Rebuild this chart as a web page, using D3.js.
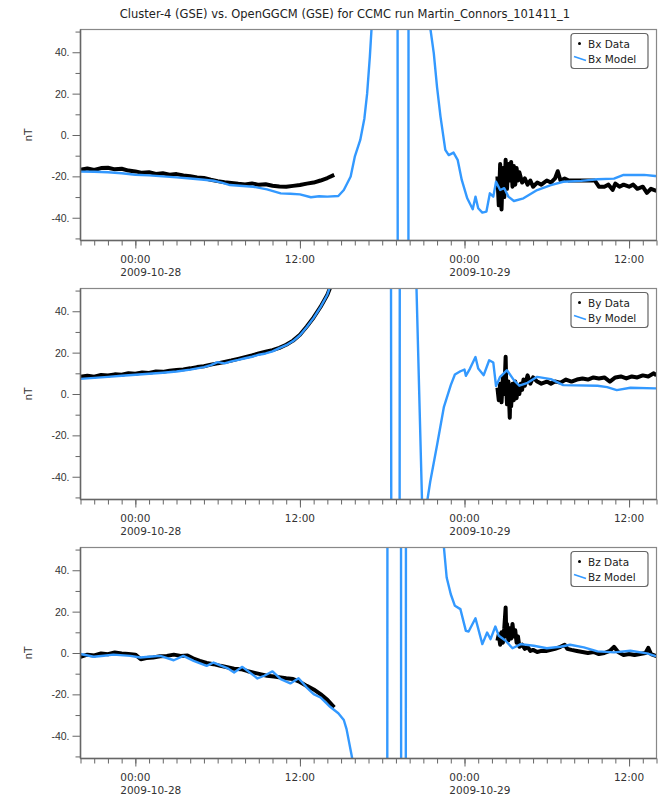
<!DOCTYPE html>
<html>
<head>
<meta charset="utf-8">
<script src="https://cdn.jsdelivr.net/npm/d3@7"></script>
<style>
  body { margin: 0; background: #fff; }
  svg { display: block; font-family: "DejaVu Sans", Verdana, sans-serif; }
  .axis path, .axis line { stroke: #666; }
  .axis text { fill: #333; font-size: 10.5px; }
</style>
</head>
<body>
<div id="chart"></div>
<script>
// times are hours from 2009-10-28 00:00 UT
var title = "Cluster-4 (GSE) vs. OpenGGCM (GSE) for CCMC run Martin_Connors_101411_1";
var components = ["Bx", "By", "Bz"];
var yTicks = [-40, -20, 0, 20, 40];
var yMinor = [-50, -30, -10, 10, 30, 50];
var xLabelHours = [0, 12, 24, 36];

var bxData1 = [[-4,-16.8],[-3.5,-16.2],[-3,-16.9],[-2.5,-16.0],[-2,-15.8],[-1.5,-16.6],[-1,-16.3],[-0.5,-17.2],[0,-17.6],[0.5,-18.3],[1,-18.0],[1.5,-18.8],[2,-18.5],[2.5,-19.2],[3,-18.9],[3.5,-19.6],[4,-19.9],[4.5,-20.5],[5,-20.8],[5.5,-21.6],[6,-22.3],[6.5,-22.8],[7,-23.2],[7.5,-23.6],[8,-23.9],[8.5,-23.4],[9,-24.1],[9.5,-23.8],[10,-24.5],[10.5,-24.9],[11,-25.0],[11.5,-24.6],[12,-24.2],[12.5,-23.5],[13,-23.0],[13.5,-22.0],[14,-20.8],[14.5,-19.3]];
var bxData2 = [[26.4,-20],[26.5,-34],[26.6,-14],[26.7,-36],[26.8,-16],[26.9,-30],[27.0,-12],[27.1,-26],[27.2,-14],[27.3,-22],[27.4,-13],[27.5,-25],[27.6,-15],[27.7,-24],[27.8,-16],[27.9,-22],[28.0,-18],[28.2,-23],[28.4,-21],[28.6,-24],[28.8,-22],[29.0,-25],[29.3,-23],[29.6,-24],[30.0,-22],[30.3,-23],[30.6,-21],[30.8,-17.5],[31.0,-22],[31.3,-21],[31.6,-22],[32.0,-22],[32.5,-22],[33.0,-22],[33.5,-22],[33.8,-25],[34.2,-25],[34.5,-24],[34.8,-26.5],[35.0,-23.5],[35.3,-25],[35.6,-24],[36.0,-25],[36.3,-24],[36.6,-26],[37.0,-25],[37.3,-28],[37.6,-26],[38.0,-27]];
var bxModel = [[-4,-17.7],[-3,-17.8],[-2,-18.0],[-1,-18.5],[0,-19.2],[1,-19.5],[2,-20.0],[3,-20.5],[4,-21.0],[5,-21.6],[5.7,-22.1],[6.3,-23.0],[6.9,-24.2],[7.6,-24.5],[8.6,-25.0],[9.6,-26.3],[10.6,-28.2],[11.3,-28.4],[12.0,-28.7],[12.8,-30.1],[13.4,-29.6],[14.0,-29.8],[14.8,-29.5],[15.2,-26.6],[15.7,-20.1],[16.0,-10.5],[16.4,-2.4],[16.7,8],[16.9,20],[17.1,38],[17.3,60],[17.6,120],[19.1,300],[19.15,-300],[19.9,-300],[19.93,300],[21.3,100],[21.52,51],[21.76,39.6],[22.0,23],[22.25,8.9],[22.6,-7.2],[22.85,-9.7],[23.2,-8.5],[23.5,-12],[23.8,-21.7],[24.2,-30.6],[24.6,-35.9],[24.8,-29.8],[25.0,-35.4],[25.3,-37.5],[25.6,-37],[25.85,-28.2],[26.1,-29.8],[26.3,-22.6],[26.6,-26.6],[26.9,-25.7],[27.2,-29.8],[27.6,-31.9],[28.3,-30.6],[29.3,-26.6],[30.3,-24.2],[31.2,-22.6],[32.5,-22.2],[33.7,-21.4],[34.9,-21.1],[35.6,-19.3],[37.1,-19.3],[37.9,-19.8],[38,-19.9]];

var byData1 = [[-4,8.3],[-3.5,8.8],[-3,8.4],[-2.5,9.2],[-2,8.9],[-1.5,9.5],[-1,9.3],[-0.5,10.0],[0,9.8],[0.5,10.4],[1,10.2],[1.5,10.9],[2,10.7],[2.5,11.3],[3,11.6],[3.5,11.9],[4,12.4],[4.5,13.0],[5,13.4],[5.5,14.2],[6,14.8],[6.5,15.5],[7,16.2],[7.5,17.0],[8,17.8],[8.5,18.6],[9,19.6],[9.5,20.4],[10,21.2],[10.5,22.3],[11,23.8],[11.5,25.8],[12,28.6],[12.5,32.6],[13,37.0],[13.5,42.1],[14,48],[14.3,53]];
var byData2 = [[26.4,3],[26.5,-3],[26.6,5],[26.7,-4],[26.8,8],[26.9,0],[27.0,18],[27.05,2],[27.1,-5],[27.2,6],[27.3,-11.5],[27.35,2],[27.4,-6],[27.5,5],[27.6,-3],[27.7,6],[27.8,-2],[27.9,4],[28.0,0],[28.1,5],[28.2,2],[28.3,7],[28.4,4],[28.6,9],[28.8,5],[29.0,8],[29.3,6],[29.6,5],[30.0,6],[30.3,5],[30.6,6],[31.0,5.5],[31.4,7],[31.8,6],[32.2,7],[32.6,7.5],[33.0,7],[33.4,8],[33.8,7.5],[34.2,8],[34.6,6],[35.0,8],[35.4,8.5],[35.8,7.5],[36.2,8.5],[36.6,8],[37.0,9],[37.4,8.5],[37.8,10],[38.0,9]];
var byModel = [[-4,7.3],[-3,7.8],[-2,8.3],[-1,8.8],[0,9.3],[1,9.8],[2,10.3],[3,10.9],[4,11.8],[5,13.0],[5.5,14.0],[6,15.4],[6.5,14.8],[7,15.8],[7.5,16.5],[8,17.3],[8.5,18.0],[9,19.0],[9.5,19.6],[10,20.6],[10.5,22.2],[11,23.6],[11.5,25.6],[12,28.4],[12.5,32.4],[13,36.8],[13.5,42.0],[14,48],[14.5,58],[15,80],[18.6,300],[18.7,-300],[19.25,-300],[19.3,300],[20.3,250],[20.5,51],[20.9,-51],[21.1,-57],[21.3,-51],[21.5,-42.4],[22.0,-24.7],[22.5,-6.2],[23.0,4.3],[23.3,9.4],[23.7,11.0],[24.0,11.8],[24.1,8.8],[24.4,12.3],[24.8,17.9],[25.0,12.3],[25.4,9.1],[25.8,16.3],[26.1,15.2],[26.3,3.8],[26.6,8.3],[27.1,11.5],[27.6,6.7],[28.0,4.0],[28.6,5.4],[29.3,8.3],[30.3,7.2],[31.2,4.3],[33.7,4.0],[34.4,3.3],[35.1,1.9],[36.1,3.0],[37.9,2.7],[38,2.7]];

var bzData1 = [[-4,-1.8],[-3.5,-0.8],[-3,-1.2],[-2.5,-0.2],[-2,-0.6],[-1.5,0.3],[-1,-0.2],[-0.5,-0.5],[0,-0.8],[0.4,-3.0],[0.8,-2.4],[1.3,-2.2],[1.8,-1.6],[2.3,-1.4],[2.8,-0.8],[3.3,-1.4],[3.8,-1.2],[4.2,-2.6],[4.7,-3.8],[5.2,-4.8],[5.7,-5.4],[6.2,-6.2],[6.7,-6.9],[7.2,-7.6],[7.7,-7.8],[8.2,-8.8],[8.7,-9.6],[9.1,-10.2],[9.6,-11.0],[10.1,-11.4],[10.6,-11.8],[11.0,-12.2],[11.5,-12.6],[12.0,-14.0],[12.5,-15.9],[13.0,-17.6],[13.5,-19.9],[14.0,-22.6],[14.5,-26.3]];
var bzData2 = [[26.4,6],[26.5,9],[26.6,4],[26.7,10],[26.8,5],[26.9,12],[27.0,22],[27.05,8],[27.1,14],[27.2,6],[27.3,12],[27.4,7],[27.5,14],[27.6,8],[27.7,11],[27.8,5],[27.9,8],[28.0,3],[28.2,4],[28.4,2],[28.6,3],[28.8,1],[29.0,1.5],[29.3,0.5],[29.6,1],[30.0,1],[30.3,1.5],[30.6,2],[31.0,3],[31.3,4],[31.5,2],[31.8,1.5],[32.2,1],[32.6,0.5],[33.0,0],[33.4,0.5],[33.8,-0.5],[34.2,0],[34.6,1],[34.9,3],[35.2,0.5],[35.6,-1],[36.0,-0.5],[36.4,-1],[36.8,-0.5],[37.2,0],[37.4,2.5],[37.6,-0.5],[38.0,-1.5]];
var bzModel = [[-4,-0.5],[-3.04,-1.8],[-2.3,-1.3],[-1.6,-0.8],[-0.36,-1.4],[0.36,-2.2],[1.0,-1.8],[1.82,-1.4],[2.8,-3.5],[3.5,-1.4],[4.25,-3.8],[5.2,-6.2],[5.7,-4.6],[6.7,-7.3],[7.2,-9.4],[7.8,-6.7],[8.9,-12.3],[9.4,-11.0],[10.0,-8.9],[10.6,-12.6],[11.3,-14.7],[11.9,-12.2],[12.5,-16.7],[13.0,-19.9],[13.5,-21.5],[14.2,-26.0],[14.8,-29.1],[15.2,-32.4],[15.4,-36.8],[15.8,-50.5],[16.0,-80],[18.35,-300],[18.4,300],[19.35,300],[19.4,-300],[19.7,-300],[19.75,300],[22.3,100],[22.5,51],[22.7,36.5],[23.0,28.4],[23.3,22.8],[23.7,21.2],[24.1,10.7],[24.3,10.4],[24.8,16.8],[25.3,4.3],[25.65,9.9],[25.9,6.7],[26.25,12.8],[26.5,8.3],[27.0,5.9],[27.5,2.3],[28.1,4.3],[29.05,3.5],[30.0,2.3],[31.0,3.0],[31.7,4.0],[32.7,2.7],[33.7,0.8],[34.9,0.3],[36.1,1.1],[37.3,-0.2],[37.9,-1.4],[38,-1.5]];

var dataSegments = [[bxData1, bxData2], [byData1, byData2], [bzData1, bzData2]];
var models = [bxModel, byModel, bzModel];

var width = 658, height = 794;
var left = 80.5, right = 656.5, panelH = 211;
var tops = [29.5, 288.5, 547.5];
var blue = "#3399ff";

var base = Date.UTC(2009, 9, 28);
function toDate(h) { return new Date(base + h * 3600e3); }

var x = d3.scaleUtc()
  .domain([toDate(-4), toDate(38)])
  .range([left, right]);

var svg = d3.select("#chart").append("svg")
  .attr("width", width)
  .attr("height", height);

svg.append("text")
  .attr("x", 345)
  .attr("y", 18)
  .attr("text-anchor", "middle")
  .style("font-size", "11.5px")
  .style("fill", "#222")
  .text(title);

components.forEach(function(comp, i) {
  var top = tops[i];
  var y = d3.scaleLinear().domain([-51, 51]).range([top + panelH, top]);

  var g = svg.append("g");

  // clip
  svg.append("clipPath").attr("id", "clip" + i)
    .append("rect")
    .attr("x", left).attr("y", top)
    .attr("width", right - left).attr("height", panelH);

  var line = d3.line()
    .x(function(d) { return x(toDate(d[0])); })
    .y(function(d) { return y(d[1]); });

  var plot = g.append("g").attr("clip-path", "url(#clip" + i + ")");

  dataSegments[i].forEach(function(seg) {
    plot.append("path")
      .datum(seg)
      .attr("d", line)
      .attr("fill", "none")
      .attr("stroke", "#000")
      .attr("stroke-width", 4)
      .attr("stroke-linejoin", "round");
  });

  plot.append("path")
    .datum(models[i])
    .attr("d", line)
    .attr("fill", "none")
    .attr("stroke", blue)
    .attr("stroke-width", 2.4)
    .attr("stroke-linejoin", "round");

  // frame top / right
  g.append("rect")
    .attr("x", left).attr("y", top)
    .attr("width", right - left).attr("height", panelH)
    .attr("fill", "none")
    .attr("stroke", "#888")
    .attr("stroke-width", 1.2);

  // y axis, minor then major
  g.append("g").attr("class", "axis")
    .attr("transform", "translate(" + left + ",0)")
    .call(d3.axisLeft(y).tickValues(yMinor).tickSize(5).tickFormat(""))
    .select(".domain").remove();
  g.append("g").attr("class", "axis")
    .attr("transform", "translate(" + left + ",0)")
    .call(d3.axisLeft(y).tickValues(yTicks).tickSize(8).tickPadding(3)
      .tickFormat(function(d) { return d + "."; }))
    .select(".domain").attr("d", "M0," + top + "V" + (top + panelH)).attr("stroke-width", 1.5);

  // x axis, hourly minor, 12h major
  var xb = top + panelH;
  g.append("g").attr("class", "axis")
    .attr("transform", "translate(0," + xb + ")")
    .call(d3.axisBottom(x).ticks(d3.utcHour.every(1)).tickSize(5).tickFormat(""))
    .select(".domain").remove();
  var xa = g.append("g").attr("class", "axis")
    .attr("transform", "translate(0," + xb + ")")
    .call(d3.axisBottom(x).tickValues(xLabelHours.map(toDate)).tickSize(8).tickFormat(""));
  xa.select(".domain").attr("d", "M" + left + ",0H" + right).attr("stroke-width", 1.5);

  xLabelHours.forEach(function(h) {
    var d = toDate(h);
    var t = g.append("text")
      .attr("y", xb + 22)
      .style("font-size", "10.5px")
      .style("fill", "#333")
      .text(d3.utcFormat("%H:%M")(d));
    var w = t.node().getComputedTextLength();
    var x0 = x(d) - w / 2;
    t.attr("x", x0);
    if (d.getUTCHours() === 0) {
      g.append("text")
        .attr("x", x0)
        .attr("y", xb + 35)
        .style("font-size", "10.5px")
        .style("fill", "#333")
        .text(d3.utcFormat("%Y-%m-%d")(d));
    }
  });

  // y label
  g.append("text")
    .attr("transform", "translate(32," + y(0) + ") rotate(-90)")
    .attr("text-anchor", "middle")
    .style("font-size", "10.5px")
    .style("fill", "#333")
    .text("nT");

  // legend
  var lx = 571, ly = top + 4;
  var lg = g.append("g");
  lg.append("rect")
    .attr("x", lx).attr("y", ly)
    .attr("width", 77).attr("height", 35)
    .attr("rx", 3)
    .attr("fill", "#fff")
    .attr("stroke", "#666")
    .attr("stroke-width", 1.2);
  lg.append("circle")
    .attr("cx", lx + 8.5).attr("cy", ly + 10)
    .attr("r", 1.5).attr("fill", "#000");
  lg.append("text")
    .attr("x", lx + 17).attr("y", ly + 14)
    .style("font-size", "10.5px").style("fill", "#222")
    .text(comp + " Data");
  lg.append("line")
    .attr("x1", lx + 3).attr("y1", ly + 23)
    .attr("x2", lx + 15).attr("y2", ly + 27)
    .attr("stroke", blue).attr("stroke-width", 1.6);
  lg.append("text")
    .attr("x", lx + 17).attr("y", ly + 29)
    .style("font-size", "10.5px").style("fill", "#222")
    .text(comp + " Model");
});
</script>
</body>
</html>
